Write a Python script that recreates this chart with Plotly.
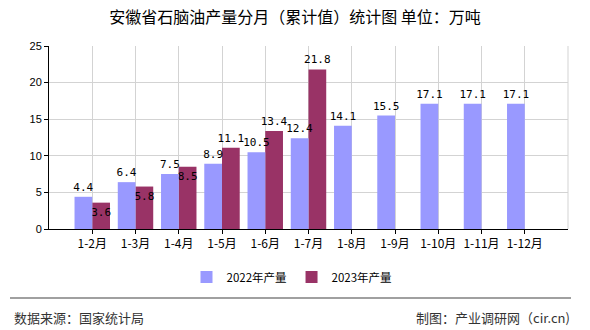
import plotly.graph_objects as go

categories = ["1-2月", "1-3月", "1-4月", "1-5月", "1-6月", "1-7月", "1-8月", "1-9月", "1-10月", "1-11月", "1-12月"]
values_2022 = [4.4, 6.4, 7.5, 8.9, 10.5, 12.4, 14.1, 15.5, 17.1, 17.1, 17.1]
values_2023 = [3.6, 5.8, 8.5, 11.1, 13.4, 21.8]
pos_2023 = ["inside", "inside", "inside", "outside", "outside", "outside"]

label_font = dict(family="DejaVu Sans Mono, monospace", size=11, color="#000000")
cjk = "Noto Sans CJK SC"
bar_w = 0.41

fig = go.Figure()
fig.add_trace(go.Bar(
    name="2023年产量", x=categories[:len(values_2023)], y=values_2023,
    marker=dict(color="#993366", line=dict(width=0)),
    width=bar_w, offset=0, legendrank=2,
    text=[f"{v:.1f}" for v in values_2023], textposition=pos_2023,
    textfont=label_font, insidetextfont=label_font, outsidetextfont=label_font,
    insidetextanchor="end", textangle=0,
    constraintext="none", cliponaxis=False,
))
fig.add_trace(go.Bar(
    name="2022年产量", x=categories, y=values_2022,
    marker=dict(color="#9999FF", line=dict(width=0)),
    width=bar_w, offset=-bar_w, legendrank=1,
    text=[f"{v:.1f}" for v in values_2022], textposition="outside",
    textfont=label_font, outsidetextfont=label_font, textangle=0,
    constraintext="none", cliponaxis=False,
))

fig.update_layout(
    width=590, height=330,
    margin=dict(l=49, r=22, t=46, b=101),
    paper_bgcolor="white", plot_bgcolor="white",
    barmode="overlay",
    showlegend=True,
    legend=dict(orientation="h", x=292 / 590, xref="container", xanchor="center",
                y=1 - 277 / 330, yref="container",
                yanchor="middle", font=dict(family=cjk, size=11.5, color="#000"),
                bgcolor="rgba(0,0,0,0)", itemwidth=30),
    title=dict(text="安徽省石脑油产量分月（累计值）统计图 单位：万吨", x=0.5, xanchor="center",
               y=1 - 17 / 330, yanchor="middle",
               font=dict(family=cjk, size=16, color="#000")),
    xaxis=dict(
        type="category", range=[-1, len(categories)],
        showgrid=True, gridcolor="#d3d3d3", gridwidth=1,
        showline=True, linecolor="#000", linewidth=1,
        ticks="outside", ticklen=4, tickcolor="#000",
        tickfont=dict(family=cjk, size=12, color="#000"),
        zeroline=False,
    ),
    yaxis=dict(
        range=[0, 25], dtick=5,
        showgrid=True, gridcolor="#d3d3d3", gridwidth=1,
        showline=True, linecolor="#000", linewidth=1,
        ticks="outside", ticklen=4, tickcolor="#000",
        tickfont=dict(family="Liberation Sans, Arial", size=11, color="#000"),
        zeroline=False,
    ),
    shapes=[
        dict(type="line", xref="paper", yref="paper", x0=1, x1=1, y0=0, y1=1,
             line=dict(color="#d3d3d3", width=1)),
        dict(type="line", xref="paper", yref="paper", x0=-39/519, x1=(571-49)/519,
             y0=-(298-229)/183, y1=-(298-229)/183, line=dict(color="#808080", width=1.5)),
    ],
    annotations=[
        dict(text="数据来源：国家统计局", xref="paper", yref="paper", x=-37/519, xanchor="left",
             y=-(317-229)/183, yanchor="middle", showarrow=False,
             font=dict(family=cjk, size=13, color="#333")),
        dict(text="制图：产业调研网（cir.cn)", xref="paper", yref="paper", x=(572-49)/519, xanchor="right",
             y=-(317-229)/183, yanchor="middle", showarrow=False,
             font=dict(family=cjk, size=13, color="#333")),
    ],
)

fig.write_html("out.html")
